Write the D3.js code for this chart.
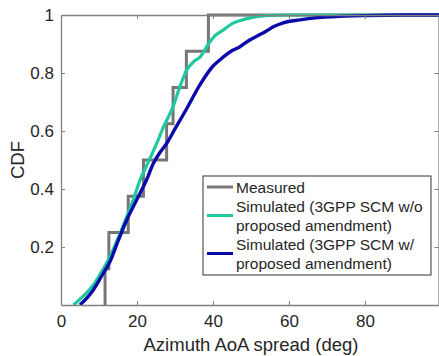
<!DOCTYPE html>
<html>
<head>
<meta charset="utf-8">
<script src="https://cdn.jsdelivr.net/npm/d3@7"></script>
<style>
  body { margin: 0; background: #fff; }
  svg { display: block; font-family: "Liberation Sans", Arial, sans-serif; }
</style>
</head>
<body>
<div id="vis"></div>
<script>
'use strict'

////////////////////////////////////////
/////////////// Data ///////////////////
////////////////////////////////////////

// measured azimuth AoA spreads (deg), eight samples -> empirical CDF
const measured = [11.6, 12.6, 17.7, 21.7, 27.8, 29.5, 33.0, 38.8];

// simulated CDFs: [spread deg, cdf]
const simNoAmend = [
  [3.3, 0], [5, 0.02], [8.5, 0.069], [10.5, 0.11], [12.9, 0.167], [15, 0.23],
  [17.3, 0.305], [19, 0.362], [20.8, 0.431], [22.5, 0.48], [25.2, 0.557],
  [27, 0.615], [29.5, 0.684], [31.3, 0.753], [33.1, 0.81], [35, 0.84],
  [36.6, 0.855], [38.8, 0.9], [40.5, 0.928], [42.7, 0.948], [45.3, 0.972],
  [47.5, 0.982], [49.7, 0.99], [54, 0.998], [60, 1], [100, 1]
];

const simAmend = [
  [5, 0], [8.5, 0.052], [10.7, 0.1], [12.9, 0.15], [15, 0.22], [17.3, 0.293],
  [19.9, 0.362], [22.5, 0.431], [24.3, 0.488], [26, 0.525], [27.8, 0.557],
  [30, 0.607], [33, 0.675], [36.6, 0.76], [40.1, 0.825], [41.8, 0.845],
  [45.3, 0.879], [47, 0.89], [49.7, 0.914], [52, 0.93], [54.1, 0.945],
  [56, 0.96], [58.5, 0.973], [62.9, 0.983], [67, 0.99], [71.6, 0.994],
  [80.4, 0.998], [90, 1], [100, 1]
];

const xTicks = [0, 20, 40, 60, 80];
const yTicks = [0.2, 0.4, 0.6, 0.8, 1];

const legendItems = [
  { lines: ["Measured"], color: "#767676" },
  { lines: ["Simulated (3GPP SCM w/o", "proposed amendment)"], color: "#1fc89f" },
  { lines: ["Simulated (3GPP SCM w/", "proposed amendment)"], color: "#0a0aaa" }
];

////////////////////////////////////////
////////////// SVG Setup ///////////////
////////////////////////////////////////

const width = 439, height = 356;
const axisColor = "#808080", textColor = "#262626";

const svg = d3.select("#vis").append("svg")
  .attr("width", width)
  .attr("height", height);

const x = d3.scaleLinear().domain([0, 99.5]).range([61, 439]);
const y = d3.scaleLinear().domain([0, 1]).range([305, 15]);

svg.append("clipPath").attr("id", "plot-clip")
  .append("rect")
  .attr("x", x(0)).attr("y", y(1) - 2)
  .attr("width", x(99.5) - x(0)).attr("height", y(0) - y(1) + 2);

////////////////////////////////////////
////////////// Lines ///////////////////
////////////////////////////////////////

const plot = svg.append("g").attr("clip-path", "url(#plot-clip)");

// ecdf as stairs
const stepPts = [[measured[0], 0]]
  .concat(measured.map((v, i) => [v, (i + 1) / measured.length]))
  .concat([[100, 1]]);

const stepLine = d3.line()
  .x(d => x(d[0])).y(d => y(d[1]))
  .curve(d3.curveStepAfter);

const smooth = d3.line()
  .x(d => x(d[0])).y(d => y(d[1]))
  .curve(d3.curveMonotoneX);

plot.append("path")
  .datum(stepPts)
  .attr("fill", "none")
  .attr("stroke", legendItems[0].color)
  .attr("stroke-width", 3)
  .attr("d", stepLine);

plot.append("path")
  .datum(simNoAmend)
  .attr("fill", "none")
  .attr("stroke", legendItems[1].color)
  .attr("stroke-width", 3.2)
  .attr("d", smooth);

plot.append("path")
  .datum(simAmend)
  .attr("fill", "none")
  .attr("stroke", legendItems[2].color)
  .attr("stroke-width", 3.4)
  .attr("d", smooth);

////////////////////////////////////////
////////////// Axes ////////////////////
////////////////////////////////////////

const tick = 4;

const xAxis = svg.append("g")
  .attr("transform", `translate(0,${y(0)})`)
  .call(d3.axisBottom(x).tickValues(xTicks).tickSizeInner(-tick).tickSizeOuter(0).tickPadding(10));

const yAxis = svg.append("g")
  .attr("transform", `translate(${x(0)},0)`)
  .call(d3.axisLeft(y).tickValues(yTicks).tickFormat(d3.format("~g")).tickSizeInner(-tick).tickSizeOuter(0).tickPadding(7));

// box: top and right with inner ticks
svg.append("g")
  .attr("transform", `translate(0,${y(1)})`)
  .call(d3.axisTop(x).tickValues(xTicks).tickSizeInner(-tick).tickSizeOuter(0).tickFormat(""));

svg.append("g")
  .attr("transform", `translate(${x(99.5) - 0.5},0)`)
  .call(d3.axisRight(y).tickValues(yTicks).tickSizeInner(-tick).tickSizeOuter(0).tickFormat(""));

svg.selectAll(".domain").attr("stroke", axisColor).attr("stroke-width", 1.3);
svg.selectAll(".tick line").attr("stroke", axisColor);
svg.selectAll(".tick text")
  .attr("fill", textColor)
  .style("font-size", "17px");

svg.append("text")
  .attr("x", 251).attr("y", 351)
  .attr("text-anchor", "middle")
  .attr("fill", textColor)
  .style("font-size", "18.5px")
  .text("Azimuth AoA spread (deg)");

svg.append("text")
  .attr("transform", `translate(24,${(y(0) + y(1)) / 2}) rotate(-90)`)
  .attr("text-anchor", "middle")
  .attr("fill", textColor)
  .style("font-size", "18.5px")
  .text("CDF");

////////////////////////////////////////
////////////// Legend //////////////////
////////////////////////////////////////

const legend = svg.append("g").attr("transform", "translate(203,176)");

legend.append("rect")
  .attr("width", 228).attr("height", 99)
  .attr("fill", "#fff")
  .attr("stroke", "#333")
  .attr("stroke-width", 1);

const rowH = 19;
let row = 0;
legendItems.forEach(item => {
  const mid = 11 + rowH * (row + (item.lines.length - 1) / 2);
  legend.append("line")
    .attr("x1", 4).attr("x2", 30)
    .attr("y1", mid).attr("y2", mid)
    .attr("stroke", item.color)
    .attr("stroke-width", 3);
  item.lines.forEach(t => {
    legend.append("text")
      .attr("x", 33)
      .attr("y", 11 + rowH * row)
      .attr("dy", "0.36em")
      .attr("fill", textColor)
      .style("font-size", "15.5px")
      .text(t);
    row++;
  });
});
</script>
</body>
</html>
